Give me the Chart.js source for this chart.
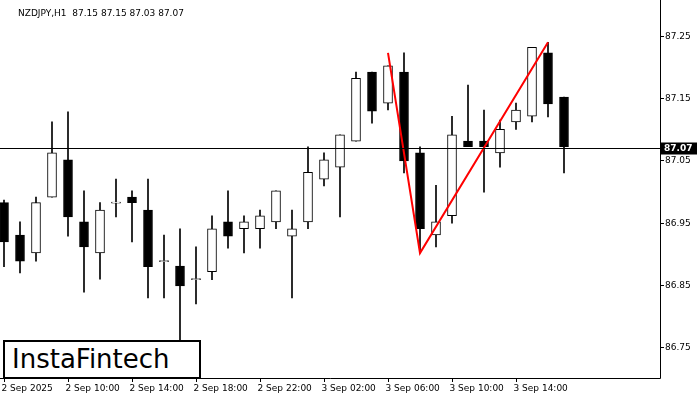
<!DOCTYPE html>
<html lang="en">
<head>
<meta charset="UTF-8">
<title>NZDJPY H1</title>
<style>
  body { margin: 0; background: #fff; }
  #wrap { position: relative; width: 700px; height: 400px; }
  .logo { position: absolute; left: 3px; top: 340px; width: 187px; height: 35px; border: 2px solid #000; background: #fff;
          font-family: "DejaVu Sans", sans-serif; font-size: 26px; line-height: 35px; padding-left: 7px; box-sizing: content-box; }
</style>
<script src="https://cdn.jsdelivr.net/npm/chart.js"></script>
</head>
<body>
<div id="wrap">
  <canvas id="chart" width="700" height="400"></canvas>
  <div class="logo">InstaFintech</div>
</div>
<script>
// candles: open, high, low, close
const opens  = [86.982,86.930,86.901,86.991,87.051,86.951,86.901,86.982,86.991,86.970,86.888,86.880,86.859,86.871,86.951,86.940,86.940,86.951,86.928,86.951,87.020,87.039,87.081,87.192,87.142,87.192,87.062,86.930,86.961,87.081,87.081,87.062,87.112,87.121,87.223,87.152];
const highs  = [86.986,86.951,86.991,87.112,87.128,87.001,86.982,87.020,87.001,87.020,86.930,86.940,86.911,86.961,87.001,86.961,86.970,87.001,86.970,87.072,87.062,87.091,87.192,87.192,87.202,87.223,87.072,87.010,87.121,87.171,87.131,87.115,87.142,87.232,87.240,87.152];
const lows   = [86.879,86.869,86.888,86.991,86.928,86.838,86.859,86.959,86.919,86.829,86.829,86.742,86.819,86.858,86.909,86.901,86.909,86.940,86.829,86.940,87.009,86.959,87.081,87.110,87.131,87.030,86.901,86.911,86.949,87.072,86.999,87.039,87.100,87.112,87.120,87.030];
const closes = [86.919,86.888,86.982,87.062,86.959,86.911,86.970,86.982,86.982,86.879,86.888,86.848,86.859,86.940,86.928,86.951,86.961,87.001,86.940,87.031,87.051,87.091,87.182,87.129,87.202,87.049,86.940,86.951,87.091,87.072,87.072,87.100,87.131,87.232,87.141,87.072];
const xLabels = ['2 Sep 2025','2 Sep 10:00','2 Sep 14:00','2 Sep 18:00','2 Sep 22:00','3 Sep 02:00','3 Sep 06:00','3 Sep 10:00','3 Sep 14:00'];
const yTicks = [86.75, 86.85, 86.95, 87.05, 87.15, 87.25];
const patternX = [24, 26, 34];
const patternY = [87.223, 86.901, 87.240];
const lastPrice = 87.07;
const title = 'NZDJPY,H1  87.15 87.15 87.03 87.07';

const idx = opens.map((_, i) => i);
const bodies = idx.map(i => ({ x: i, y: opens[i] === closes[i] ? [opens[i] - 0.0008, opens[i] + 0.0008] : [opens[i], closes[i]] }));
const wicks = idx.map(i => ({ x: i, y: [lows[i], highs[i]] }));
const bodyColors = idx.map(i => closes[i] < opens[i] ? '#000' : '#fff');

const overlay = {
  id: 'overlay',
  afterDraw(chart) {
    const { ctx, chartArea: a, scales: { x, y } } = chart;
    ctx.save();
    ctx.font = '9px "DejaVu Sans", sans-serif';
    ctx.fillStyle = '#000';
    ctx.strokeStyle = '#000';
    ctx.lineWidth = 1;
    // frame
    ctx.beginPath();
    ctx.moveTo(a.right + 0.5, 0); ctx.lineTo(a.right + 0.5, a.bottom + 0.5); ctx.lineTo(0, a.bottom + 0.5);
    ctx.stroke();
    // y ticks
    ctx.textBaseline = 'middle'; ctx.textAlign = 'left';
    yTicks.forEach(t => {
      const py = Math.round(y.getPixelForValue(t)) + 0.5;
      ctx.beginPath(); ctx.moveTo(a.right, py); ctx.lineTo(a.right + 4, py); ctx.stroke();
      ctx.fillText(t.toFixed(2), a.right + 5, py);
    });
    // x ticks
    ctx.textBaseline = 'top';
    xLabels.forEach((l, k) => {
      const px = Math.round(x.getPixelForValue(k * 4)) + 0.5;
      ctx.beginPath(); ctx.moveTo(px, a.bottom); ctx.lineTo(px, a.bottom + 4); ctx.stroke();
      ctx.fillText(l, px - 3, a.bottom + 6);
    });
    // last price line and tag
    const ly = Math.round(y.getPixelForValue(lastPrice)) + 0.5;
    ctx.beginPath(); ctx.moveTo(0, ly); ctx.lineTo(a.right, ly); ctx.stroke();
    ctx.fillRect(a.right + 1, ly - 6, 36, 12);
    ctx.fillStyle = '#fff'; ctx.textBaseline = 'middle';
    ctx.font = 'bold 9px "DejaVu Sans", sans-serif';
    ctx.fillText(lastPrice.toFixed(2), a.right + 4, ly);
    // title
    ctx.fillStyle = '#000'; ctx.font = '9px "DejaVu Sans", sans-serif';
    ctx.fillText(title, 18, 14);
    ctx.restore();
  }
};

new Chart(document.getElementById('chart'), {
  type: 'bar',
  data: {
    datasets: [
      { type: 'line', data: patternX.map((v, i) => ({ x: v, y: patternY[i] })), borderColor: '#ff0000', borderWidth: 2,
        pointRadius: 0, order: 0 },
      { data: bodies, backgroundColor: bodyColors, borderColor: '#000', borderWidth: 1, borderSkipped: false,
        barThickness: 9, grouped: false, order: 1 },
      { data: wicks, backgroundColor: '#000', borderWidth: 0, barThickness: 1, grouped: false, order: 2 }
    ]
  },
  options: {
    responsive: false,
    animation: false,
    layout: { padding: { right: 40, bottom: 22 } },
    plugins: { legend: { display: false }, tooltip: { enabled: false } },
    scales: {
      x: { type: 'linear', display: false, min: -0.25, max: 41.0, offset: false },
      y: { display: false, min: 86.70, max: 87.308 }
    }
  },
  plugins: [overlay]
});
</script>
</body>
</html>
